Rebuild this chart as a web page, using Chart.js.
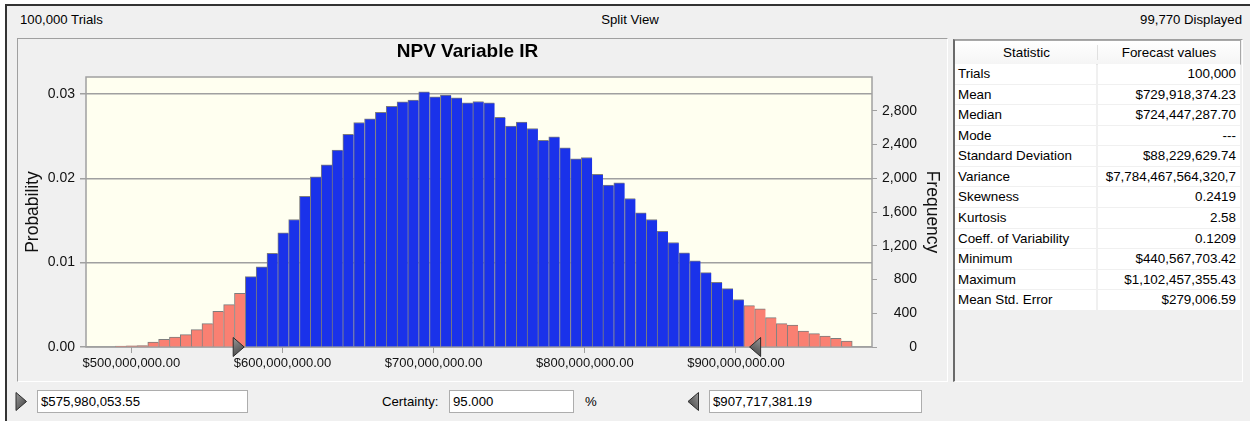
<!DOCTYPE html>
<html>
<head>
<meta charset="utf-8">
<script src="https://cdn.jsdelivr.net/npm/chart.js@4.4.1/dist/chart.umd.min.js"></script>
<style>
  body { margin: 0; width: 1250px; height: 421px; overflow: hidden; background: #fff; position: relative;
         font-family: "Liberation Sans", Arial, sans-serif; font-size: 13.2px; color: #000; }
  .abs { position: absolute; white-space: nowrap; }
  .win { left: 5px; top: 4px; width: 1245px; height: 417px; background: #f0f0f0;
         border-left: 2px solid #333; border-top: 2px solid #333; }
  .lbl { line-height: 15px; }
  .chartPanel { left: 17px; top: 38px; width: 929px; height: 342px;
                border-left: 1px solid #a0a0a0; border-top: 1px solid #a0a0a0;
                border-right: 1px solid #fff; border-bottom: 1px solid #fff; }
  .tablePanel { left: 953px; top: 39px; width: 287px; height: 341px;
                border-left: 2px solid #6a6a6a; border-top: 1px solid #a0a0a0;
                border-right: 1px solid #fff; border-bottom: 1px solid #fff; }
  .hdr { left: 955px; top: 40px; width: 285px; height: 23px; background: linear-gradient(#fff, #f5f5f5);
         border-top: 1px solid #a8a8a8; border-right: 1px solid #a8a8a8; border-bottom: 1px solid #e4e4e4; font-size: 13.4px; }
  .hcell { top: 0; height: 23px; line-height: 23px; text-align: center; }
  .row { left: 955px; width: 286px; font-size: 13.4px; }
  .c1 { position: absolute; left: 0; width: 141px; top: 0; bottom: 1px; background: #fff; padding-left: 3px; box-sizing: border-box; }
  .c2 { position: absolute; left: 143px; width: 142px; top: 0; bottom: 1px; background: #fff; padding-right: 4px; text-align: right; box-sizing: border-box; overflow: hidden; }
  .box { height: 21px; line-height: 21px; background: #fff; border: 1px solid #adadad; padding-left: 3px; box-sizing: content-box; }
  canvas { position: absolute; left: 18px; top: 39px; }
</style>
</head>
<body>
<div class="abs win"></div>
<div class="abs lbl" style="left:20px; top:12px;">100,000 Trials</div>
<div class="abs lbl" style="left:630px; top:12px; transform: translateX(-50%);">Split View</div>
<div class="abs lbl" style="right:8px; top:12px;">99,770 Displayed</div>

<div class="abs chartPanel"></div>
<canvas id="forecast" width="929" height="342"></canvas>

<div class="abs tablePanel"></div>
<div class="abs hdr">
  <div class="abs hcell" style="left:0; width:143px;">Statistic</div>
  <div class="abs" style="left:142px; top:4px; width:1px; height:15px; background:#e0e0e0;"></div>
  <div class="abs hcell" style="left:143px; width:142px;">Forecast values</div>
</div>
<div id="rows"></div>

<svg class="abs" style="left:15px; top:392px;" width="13" height="20">
  <defs><linearGradient id="tg" x1="0" y1="0" x2="1" y2="1"><stop offset="0" stop-color="#9a9a9a"/><stop offset="1" stop-color="#3c3c3c"/></linearGradient></defs>
  <polygon points="1,0.5 11.5,9.5 1,18.5" fill="url(#tg)" stroke="#2c2c2c" stroke-width="1"/>
</svg>
<div class="abs box" style="left:37px; top:390px; width:206px;" id="lowBox"></div>
<div class="abs lbl" style="left:382px; top:394px;">Certainty:</div>
<div class="abs box" style="left:449px; top:390px; width:120px;" id="certBox"></div>
<div class="abs lbl" style="left:585px; top:394px;">%</div>
<svg class="abs" style="left:687px; top:392px;" width="13" height="20">
  <defs><linearGradient id="tg2" x1="1" y1="0" x2="0" y2="1"><stop offset="0" stop-color="#9a9a9a"/><stop offset="1" stop-color="#3c3c3c"/></linearGradient></defs>
  <polygon points="11.5,0.5 1,9.5 11.5,18.5" fill="url(#tg2)" stroke="#2c2c2c" stroke-width="1"/>
</svg>
<div class="abs box" style="left:709px; top:390px; width:208px;" id="highBox"></div>

<script>
// forecast histogram, 100,000 trials
const trials = 100000;
const binStart = 489.36e6;
const binWidth = 7.17e6;
const frequencies = [
  12, 15, 18, 59, 91, 119, 147, 206, 277, 423, 503, 637,
  835, 949, 1111, 1352, 1511, 1787, 2016, 2158, 2333, 2522, 2661, 2704,
  2780, 2851, 2906, 2926, 3024, 2965, 2985, 2953, 2894, 2910, 2894, 2721,
  2617, 2665, 2590, 2448, 2491, 2360, 2230, 2246, 2045, 1918, 1945, 1760,
  1589, 1511, 1372, 1238, 1115, 1020, 882, 767, 692, 562,
  491, 451, 349, 277, 261, 190, 159, 130, 103, 71
];
const lowerBound = 575980053.55;
const upperBound = 907717381.19;
const certainty = "95.000";

const xTicks = [500e6, 600e6, 700e6, 800e6, 900e6];
const probTicks = [0, 0.01, 0.02, 0.03];
const freqTicks = [0, 400, 800, 1200, 1600, 2000, 2400, 2800];

const statNames = ["Trials", "Mean", "Median", "Mode", "Standard Deviation", "Variance",
  "Skewness", "Kurtosis", "Coeff. of Variability", "Minimum", "Maximum", "Mean Std. Error"];
const statValues = ["100,000", "$729,918,374.23", "$724,447,287.70", "---", "$88,229,629.74",
  "$7,784,467,564,320,7", "0.2419", "2.58", "0.1209", "$440,567,703.42", "$1,102,457,355.43", "$279,006.59"];

const money = (v) => "$" + v.toLocaleString("en-US", { minimumFractionDigits: 2, maximumFractionDigits: 2 });

// stats table
const rows = document.getElementById("rows");
statNames.forEach((name, i) => {
  const r = document.createElement("div");
  r.className = "abs row";
  r.style.top = (64 + i * 20.58) + "px";
  r.style.height = "20.58px";
  r.style.lineHeight = "20.5px";
  r.innerHTML = '<div class="c1"></div><div class="c2"></div>';
  r.children[0].textContent = name;
  r.children[1].textContent = statValues[i];
  rows.appendChild(r);
});
document.getElementById("lowBox").textContent = money(lowerBound);
document.getElementById("highBox").textContent = money(upperBound);
document.getElementById("certBox").textContent = certainty;

const binCenters = frequencies.map((_, i) => binStart + (i + 0.5) * binWidth);
const barColors = binCenters.map((c) => (c < lowerBound || c > upperBound) ? "#FA8072" : "#1A32EA");

Chart.defaults.font.family = "'Liberation Sans', Arial, sans-serif";
Chart.defaults.color = "#111";

const plotFrame = {
  id: "plotFrame",
  beforeDraw(chart) {
    const { ctx, chartArea: a } = chart;
    ctx.save();
    ctx.fillStyle = "#FFFFF0";
    ctx.fillRect(a.left, a.top, a.width, a.height);
    ctx.restore();
  },
  beforeDatasetsDraw(chart) {
    const { ctx, chartArea: a } = chart;
    ctx.save();
    ctx.strokeStyle = "#a0a0a0";
    ctx.lineWidth = 1.5;
    ctx.strokeRect(a.left, a.top, a.width, a.height);
    ctx.restore();
  }
};

const certaintyMarkers = {
  id: "certaintyMarkers",
  afterDatasetsDraw(chart) {
    const { ctx, chartArea: a, scales } = chart;
    const b = a.bottom;
    const draw = (tip, dir) => {
      const back = tip - dir * 11;
      const g = ctx.createLinearGradient(back, b - 9.5, tip, b + 9.5);
      g.addColorStop(0, "#9a9a9a");
      g.addColorStop(1, "#3a3a3a");
      ctx.beginPath();
      ctx.moveTo(back, b - 9.5);
      ctx.lineTo(tip, b);
      ctx.lineTo(back, b + 9.5);
      ctx.closePath();
      ctx.fillStyle = g;
      ctx.fill();
      ctx.strokeStyle = "#2a2a2a";
      ctx.lineWidth = 1;
      ctx.stroke();
    };
    ctx.save();
    draw(scales.x.getPixelForValue(lowerBound) - 2, 1);
    draw(scales.x.getPixelForValue(upperBound) + 2, -1);
    ctx.restore();
  }
};

const lastBin = frequencies.length - 1;

new Chart(document.getElementById("forecast"), {
  type: "bar",
  data: {
    datasets: [{
      data: binCenters.map((x, i) => ({ x: x, y: frequencies[i] })),
      yAxisID: "y1",
      backgroundColor: barColors,
      borderColor: "#7d7d7d",
      borderWidth: (c) => ({ top: 1, left: 1, right: c.dataIndex === lastBin ? 1 : 0, bottom: 0 }),
      borderSkipped: "bottom",
      barPercentage: 1,
      categoryPercentage: 1
    }]
  },
  options: {
    responsive: false,
    animation: false,
    devicePixelRatio: 1,
    layout: { padding: { right: 30 } },
    plugins: {
      legend: { display: false },
      tooltip: { enabled: false },
      title: {
        display: true,
        text: "NPV Variable IR",
        color: "#000",
        font: { size: 19, weight: "bold" },
        padding: { top: 1.5, bottom: 13.7 }
      }
    },
    scales: {
      x: {
        type: "linear",
        min: 470e6,
        max: 990e6,
        offset: false,
        afterBuildTicks: (s) => { s.ticks = xTicks.map((v) => ({ value: v })); },
        afterFit: (s) => { s.height = 34; },
        ticks: { callback: (v) => money(v), maxRotation: 0, autoSkip: false, padding: 2.5, font: { size: 13 } },
        grid: { drawOnChartArea: false, offset: false, tickLength: 6, color: "#a0a0a0" },
        border: { display: false }
      },
      y: {
        position: "left",
        min: 0,
        max: 0.032,
        afterBuildTicks: (s) => { s.ticks = probTicks.map((v) => ({ value: v })); },
        afterFit: (s) => { s.width = 68; },
        ticks: { callback: (v) => v.toFixed(2), padding: 5, font: { size: 14 } },
        grid: { color: "#a0a0a0", lineWidth: 1.5, tickLength: 6 },
        border: { display: false },
        title: { display: true, text: "Probability", color: "#111", font: { size: 17.5 }, padding: { top: 4.5, bottom: 0 } }
      },
      y1: {
        position: "right",
        min: 0,
        max: trials * 0.032,
        afterBuildTicks: (s) => { s.ticks = freqTicks.map((v) => ({ value: v })); },
        afterFit: (s) => { s.width = 45; },
        ticks: { callback: (v) => v.toLocaleString("en-US"), crossAlign: "far", font: { size: 14 } },
        grid: { drawOnChartArea: false, tickLength: 5, color: "#a0a0a0" },
        border: { display: false },
        title: { display: true, text: "Frequency", color: "#111", font: { size: 17.5 }, padding: { top: -25.5, bottom: 0 } }
      }
    }
  },
  plugins: [plotFrame, certaintyMarkers]
});
</script>
</body>
</html>
